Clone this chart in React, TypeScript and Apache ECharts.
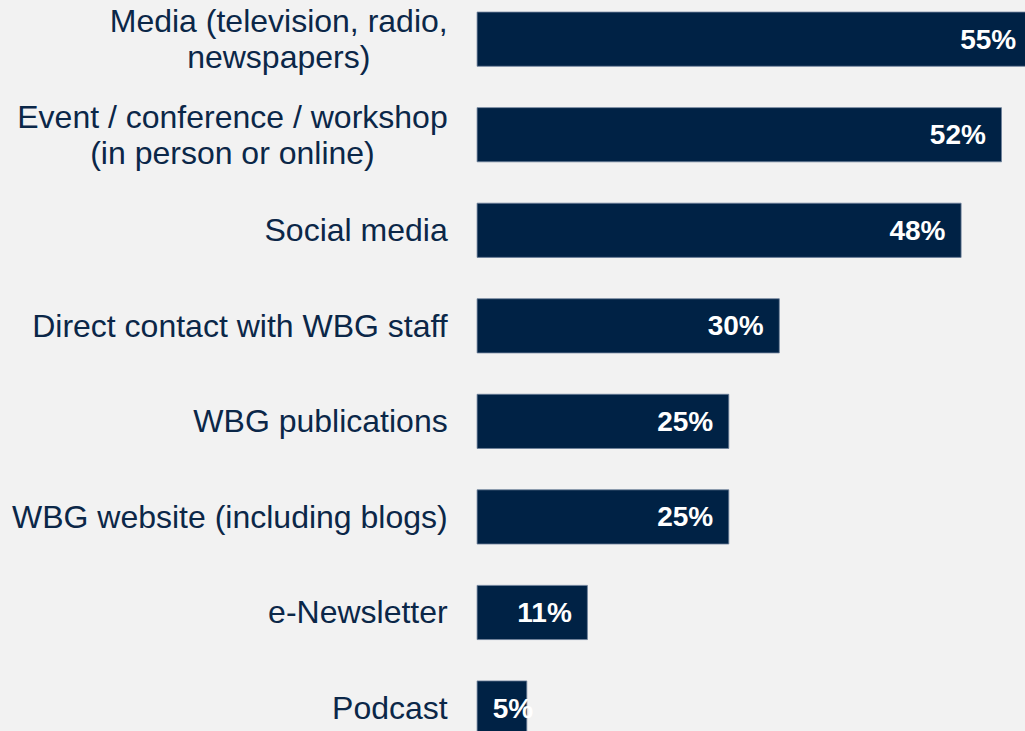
import React, { useEffect, useRef } from "react";
import * as echarts from "echarts";

const categories = [
  "Media (television, radio,\nnewspapers)",
  "Event / conference / workshop\n(in person or online)",
  "Social media",
  "Direct contact with WBG staff",
  "WBG publications",
  "WBG website (including blogs)",
  "e-Newsletter",
  "Podcast",
];
const values = [55, 52, 48, 30, 25, 25, 11, 5];

const FONT = "'Liberation Sans', Arial, Helvetica, sans-serif";
const NAVY = "#002245";
const TEXT = "#0b2748";

export default function App() {
  const ref = useRef<HTMLDivElement>(null);
  useEffect(() => {
    if (!ref.current) return;
    const chart = echarts.init(ref.current, null, { renderer: "svg" });
    const data = values.map((v) =>
      v < 8
        ? { value: v, label: { position: "insideLeft", distance: 16 } }
        : { value: v }
    );
    chart.setOption({
      animation: false,
      backgroundColor: "#f2f2f2",
      grid: {
        left: 476.7,
        top: -8.6,
        width: 606,
        height: 764.4,
        containLabel: false,
        outerBoundsMode: "none",
      },
      xAxis: {
        type: "value",
        min: 0,
        max: 60,
        show: false,
        splitLine: { show: false },
      },
      yAxis: {
        type: "category",
        inverse: true,
        data: categories,
        axisLine: { show: false },
        axisTick: { show: false },
        splitLine: { show: false },
        axisLabel: {
          margin: 29,
          align: "right",
          fontFamily: FONT,
          fontSize: 32,
          color: TEXT,
          lineHeight: 36,
          formatter: (s: string) =>
            s
              .split("\n")
              .map((l) => `{c|${l}}`)
              .join("\n"),
          rich: {
            c: {
              align: "center",
              fontFamily: FONT,
              fontSize: 32,
              lineHeight: 36,
              color: TEXT,
            },
          },
        },
      },
      series: [
        {
          type: "bar",
          data,
          barWidth: 55,
          clip: false,
          itemStyle: { color: NAVY, borderColor: "#6d809b", borderWidth: 0.8 },
          label: {
            show: true,
            position: "insideRight",
            distance: 16,
            formatter: "{c}%",
            color: "#ffffff",
            fontWeight: "bold",
            fontFamily: FONT,
            fontSize: 28,
          },
        },
      ],
    });
    return () => chart.dispose();
  }, []);
  return (
    <div
      ref={ref}
      style={{ position: "fixed", left: 0, top: 0, width: 1025, height: 731 }}
    />
  );
}
